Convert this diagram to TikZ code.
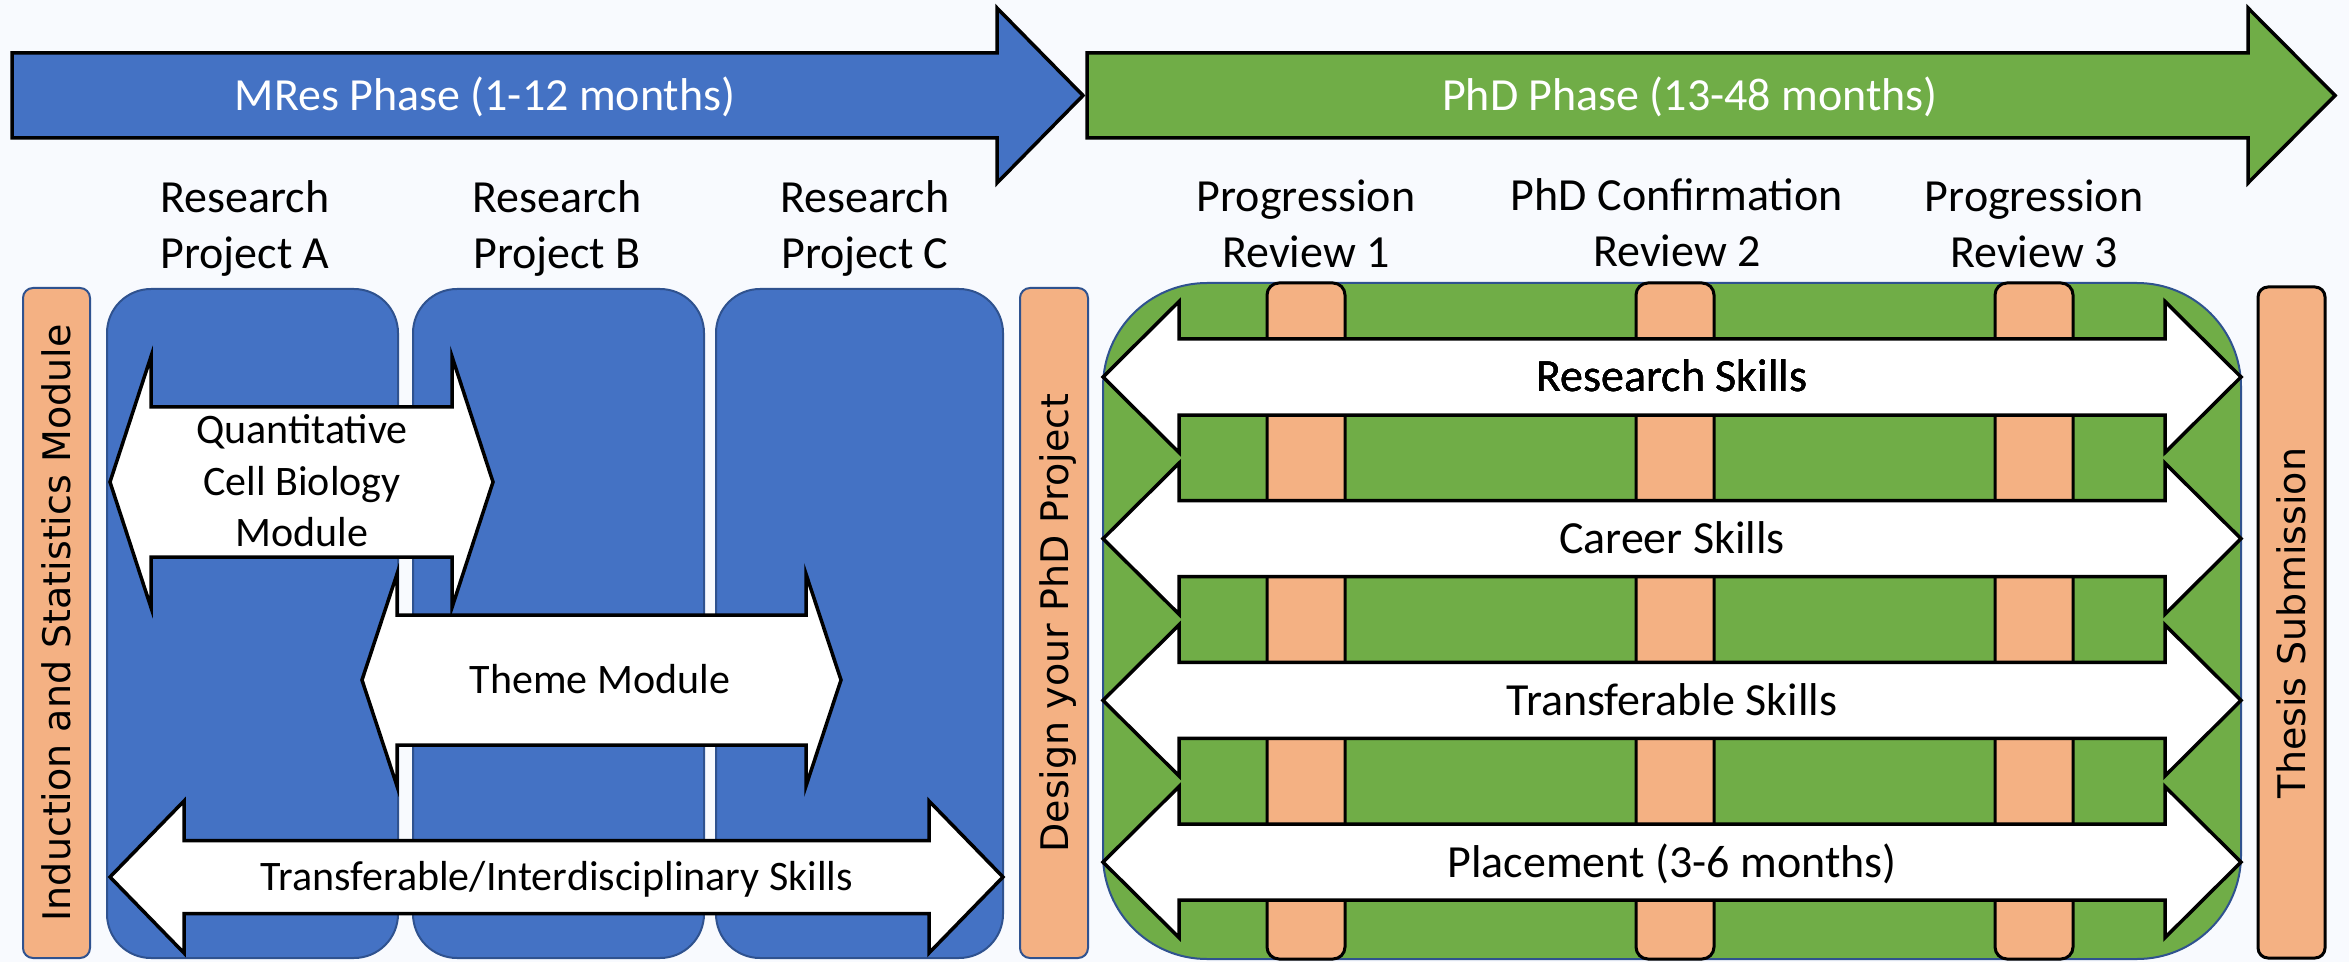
\documentclass[tikz,border=0pt]{standalone}
\usepackage{fontspec}
\setmainfont{Carlito}
\newfontfamily\barfont{DejaVu Sans}
\definecolor{mresblue}{HTML}{4472C4}
\definecolor{phdgreen}{HTML}{70AD47}
\definecolor{peach}{HTML}{F4B183}
\definecolor{outline}{HTML}{2F528F}
\definecolor{paper}{RGB}{248,250,254}
\newcommand{\twoway}[6]{%
  \draw[skillarrow] (#1,#3) -- (#1+#6,#3-#5) -- (#1+#6,#3-#4) -- (#2-#6,#3-#4)
    -- (#2-#6,#3-#5) -- (#2,#3) -- (#2-#6,#3+#5) -- (#2-#6,#3+#4)
    -- (#1+#6,#3+#4) -- (#1+#6,#3+#5) -- cycle;}
\begin{document}
\begin{tikzpicture}[x=0.5pt, y=-0.5pt,
    phase/.style={draw=black, line width=1.75pt},
    phasetext/.style={text=white, anchor=base, inner sep=0pt, font=\fontsize{23}{28}\selectfont},
    head/.style={align=center, inner sep=0pt, font=\fontsize{23}{28}\selectfont},
    sidebar/.style={fill=peach, draw=outline, line width=1pt, rounded corners=5pt},
    bartext/.style={rotate=90, text depth=0pt, inner sep=0pt, font=\barfont\fontsize{19}{23}\selectfont},
    project/.style={fill=mresblue, draw=outline, line width=1pt, rounded corners=22pt},
    review/.style={fill=peach, draw=black, line width=1.5pt, rounded corners=6pt},
    skillarrow/.style={fill=white, draw=black, line width=1.75pt},
    skilltext/.style={anchor=base, inner sep=0pt, font=\fontsize{23}{28}\selectfont},
    moduletext/.style={align=center, inner sep=0pt, font=\fontsize{21}{25.75}\selectfont}]
    \fill[paper] (0,0) rectangle (2349,962);
    \useasboundingbox (0,0) rectangle (2349,962);

    \draw[phase, fill=mresblue] (12,53) -- (997,53) -- (997,8) -- (1083,95.5) -- (997,183) -- (997,138) -- (12,138) -- cycle;
    \node[phasetext] (mres) at (485,111) {MRes Phase (1-12 months)};
    \draw[phase, fill=phdgreen] (1087,53) -- (2248,53) -- (2248,8) -- (2335,95.5) -- (2248,183) -- (2248,138) -- (1087,138) -- cycle;
    \node[phasetext] (phd) at (1690,111) {PhD Phase (13-48 months)};

    \node[head] (projA) at (245,228) {Research\\Project A};
    \node[head] (projB) at (557,228) {Research\\Project B};
    \node[head] (projC) at (865,228) {Research\\Project C};
    \node[head] (rev1) at (1306,223.5) {Progression\\Review 1};
    \node[head] (rev2) at (1677,223) {PhD Confirmation\\Review 2};
    \node[head] (rev3) at (2034,223.5) {Progression\\Review 3};

    \draw[sidebar] (23,288) rectangle (90,958);
    \node[bartext] (induction) at (56.5,623) {Induction and Statistics Module};
    \draw[project] (107,289) rectangle (398,958);
    \draw[project] (413,289) rectangle (704,958);
    \draw[project] (716,289) rectangle (1003,958);
    \draw[sidebar] (1020,288) rectangle (1088,958);
    \node[bartext] (design) at (1054,623) {Design your PhD Project};

    \draw[fill=phdgreen, draw=outline, line width=1pt, rounded corners=52pt] (1103,283) rectangle (2241,959);
    \foreach \x in {1306,1675,2034}
        \draw[review] (\x-39,283) rectangle (\x+39,959);
    \foreach \y in {377,538.7,700.4,862.1}
        \twoway{1103}{2241}{\y}{38}{75.5}{76}
    \node[skilltext] (research) at (1672,392) {Research Skills};
    \node[skilltext] (career) at (1672,553.7) {Career Skills};
    \node[skilltext] (transferable) at (1672,715.4) {Transferable Skills};
    \node[skilltext] (placement) at (1672,877.1) {Placement (3-6 months)};

    \twoway{110}{493}{482}{75}{125.5}{41}
    \node[moduletext] (quant) at (302,481) {Quantitative\\Cell Biology\\Module};
    \twoway{362}{841}{680}{65}{106}{35}
    \node[moduletext, anchor=base] (theme) at (600,693.5) {Theme Module};
    \twoway{110}{1003}{877}{36.5}{76}{74}
    \node[moduletext, anchor=base] (interdisc) at (557,890.5) {Transferable/Interdisciplinary Skills};

    \draw[sidebar, draw=black, line width=1.5pt] (2258,287) rectangle (2325,958);
    \node[bartext] (thesis) at (2291.5,623) {Thesis Submission};
\end{tikzpicture}
\end{document}
